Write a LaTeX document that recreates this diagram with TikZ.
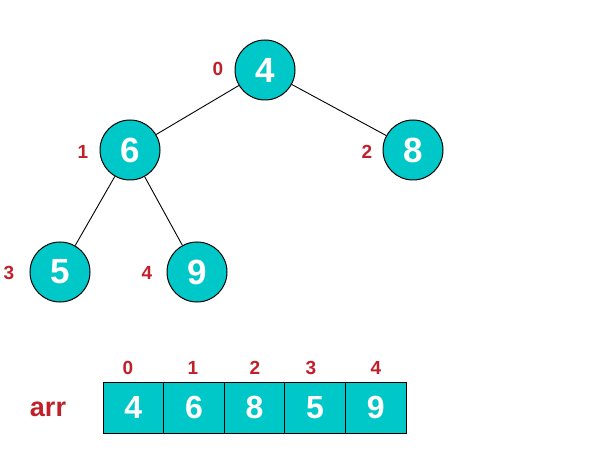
\documentclass[tikz,border=0pt]{standalone}
\usepackage{fontspec}
\setmainfont{Liberation Sans}
\definecolor{teal1}{RGB}{0,200,200}
\definecolor{lab}{RGB}{192,32,42}
\begin{document}
\begin{tikzpicture}[x=1pt,y=-1pt,
  hnode/.style={circle,draw=black,line width=1pt,fill=teal1,minimum size=60pt,inner sep=0pt,text=white,font=\fontsize{35}{35}\selectfont\bfseries},
  idx/.style={text=lab,font=\fontsize{19}{19}\selectfont\bfseries,inner sep=0pt},
  cell/.style={rectangle,draw=black,line width=1pt,fill=teal1,minimum width=60.6pt,minimum height=51pt,inner sep=0pt,text=white,font=\fontsize{32}{32}\selectfont\bfseries},
  edge/.style={draw=black,line width=0.9pt}]
\useasboundingbox (0,0) rectangle (599,462);
\node[hnode] (n0) at (265,70) {4};
\node[hnode] (n1) at (130,150) {6};
\node[hnode] (n2) at (413,150) {8};
\node[hnode] (n3) at (60,272) {5};
\node[hnode] (n4) at (197,272) {9};
\draw[edge] (n0) -- (n1);
\draw[edge] (n0) -- (n2);
\draw[edge] (n1) -- (n3);
\draw[edge] (n1) -- (n4);
\node[idx] (l0) at (218,69) {0};
\node[idx] (l1) at (83,152) {1};
\node[idx] (l2) at (367,152) {2};
\node[idx] (l3) at (9,273) {3};
\node[idx] (l4) at (147,273) {4};
\node[cell] (c0) at (133.3,407.5) {4};
\node[cell] (c1) at (193.9,407.5) {6};
\node[cell] (c2) at (254.5,407.5) {8};
\node[cell] (c3) at (315.1,407.5) {5};
\node[cell] (c4) at (375.7,407.5) {9};
\node[idx] (a0) at (128,368) {0};
\node[idx] (a1) at (193,368) {1};
\node[idx] (a2) at (255,368) {2};
\node[idx] (a3) at (311,368) {3};
\node[idx] (a4) at (376,368) {4};
\node[text=lab,font=\fontsize{27}{27}\selectfont\bfseries,inner sep=0pt] (arr) at (48,409) {arr};
\end{tikzpicture}
\end{document}
